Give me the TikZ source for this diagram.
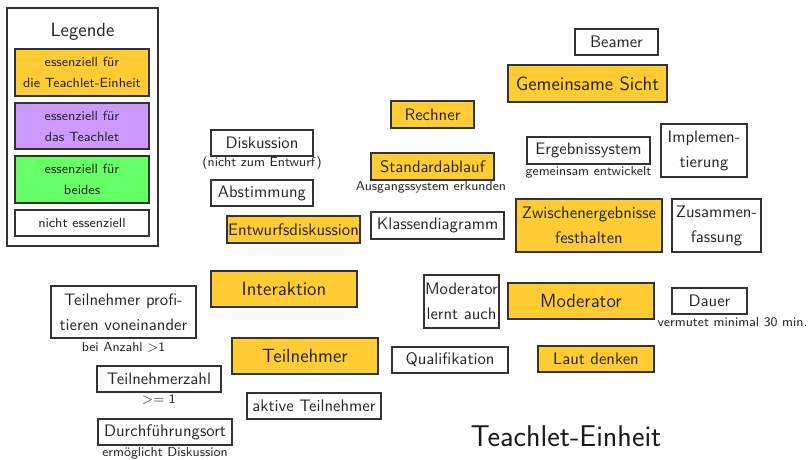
\documentclass[tikz,border=0pt]{standalone}
\usetikzlibrary{positioning}
\definecolor{orng}{HTML}{FFCC33}
\definecolor{purp}{HTML}{CC99FF}
\definecolor{grn}{HTML}{66FF66}
\definecolor{bord}{HTML}{333333}
\tikzset{
  bw/.style={minimum width=#1*0.6pt},
  bh/.style={minimum height=#1*0.6pt},
  box/.style={draw=bord, line width=0.7pt, inner sep=0pt, align=center, font=\sffamily\fontsize{10}{15}\selectfont, text=black!85},
  ess/.style={box, fill=orng},
  big/.style={font=\sffamily\fontsize{11.5}{15}\selectfont},
  sub/.style={inner sep=0pt, align=center, font=\sffamily\fontsize{7.8}{10}\selectfont, text=black!85},
  leg/.style={box, font=\sffamily\fontsize{8}{12.6}\selectfont},
}
\begin{document}
\begin{tikzpicture}[x=0.6pt,y=-0.6pt]
\useasboundingbox (0,0) rectangle (811,460);
% legend
\node[draw=bord, line width=0.7pt, bw=151, bh=238, inner sep=0pt] (legframe) at (82.5,127) {};
\node[inner sep=0pt, font=\sffamily\fontsize{11.5}{14}\selectfont, text=black!85] (legtitle) at (82.5,32) {Legende};
\node[leg, fill=orng, bw=134, bh=47] (lega) at (82,72.5) {essenziell für\\die Teachlet-Einheit};
\node[leg, fill=purp, bw=134, bh=46] (legb) at (82,126) {essenziell für\\das Teachlet};
\node[leg, fill=grn, bw=134, bh=47] (legc) at (82,179.5) {essenziell für\\beides};
\node[leg, fill=white, bw=134, bh=26] (legd) at (82,223) {nicht essenziell};
% nodes
\node[box, bw=83, bh=26] (beamer) at (616.5,42) {Beamer};
\node[ess, big, bw=159, bh=37] (gsicht) at (587.5,83.5) {Gemeinsame Sicht};
\node[ess, bw=83, bh=27] (rechner) at (432.5,114.5) {Rechner};
\node[box, bw=102, bh=26] (disk) at (262,143) {Diskussion};
\node[sub] (disksub) at (262,163) {(nicht zum Entwurf)};
\node[ess, bw=123, bh=27] (std) at (432.5,166.5) {Standardablauf};
\node[sub] (stdsub) at (431,187) {Ausgangssystem erkunden};
\node[box, bw=123, bh=27] (erg) at (588.5,150.5) {Ergebnissystem};
\node[sub] (ergsub) at (588.5,172) {gemeinsam entwickelt};
\node[box, bw=86, bh=53] (impl) at (704,150.5) {Implemen-\\tierung};
\node[box, bw=102, bh=26] (abst) at (262,193) {Abstimmung};
\node[ess, bw=133, bh=27] (entw) at (293.5,229.5) {Entwurfsdiskussion};
\node[box, bw=133, bh=27] (klass) at (437.5,225.5) {Klassendiagramm};
\node[ess, bw=146, bh=53] (zwisch) at (589,225.5) {Zwischenergebnisse\\festhalten};
\node[box, bw=89, bh=53] (zusam) at (716.5,225.5) {Zusammen-\\fassung};
\node[ess, big, bw=146, bh=36] (inter) at (284,289) {Interaktion};
\node[box, bw=145, bh=52] (tprof) at (123.5,312) {Teilnehmer profi-\\tieren voneinander};
\node[sub] (tprofsub) at (123.5,347) {bei Anzahl $>$1};
\node[box, bw=75, bh=53] (modl) at (461.5,301.5) {Moderator\\lernt auch};
\node[ess, big, bw=146, bh=36] (mod) at (581,301) {Moderator};
\node[box, bw=75, bh=26] (dauer) at (709.5,301) {Dauer};
\node[sub] (dauersub) at (732.5,322) {vermutet minimal 30 min.};
\node[ess, big, bw=146, bh=36] (teil) at (305,356) {Teilnehmer};
\node[box, bw=116, bh=26] (qual) at (450,360) {Qualifikation};
\node[ess, bw=116, bh=26] (laut) at (596,359) {Laut denken};
\node[box, bw=124, bh=26] (tzahl) at (159,379) {Teilnehmerzahl};
\node[sub] (tzahlsub) at (159,400) {$>=$ 1};
\node[box, bw=134, bh=26] (aktiv) at (314,406) {aktive Teilnehmer};
\node[box, bw=134, bh=26] (durch) at (165,432) {Durchführungsort};
\node[sub] (durchsub) at (165,453) {ermöglicht Diskussion};
\node[inner sep=0pt, font=\sffamily\fontsize{18}{20}\selectfont, text=black!90] (title) at (566,436) {Teachlet-Einheit};
\end{tikzpicture}
\end{document}
